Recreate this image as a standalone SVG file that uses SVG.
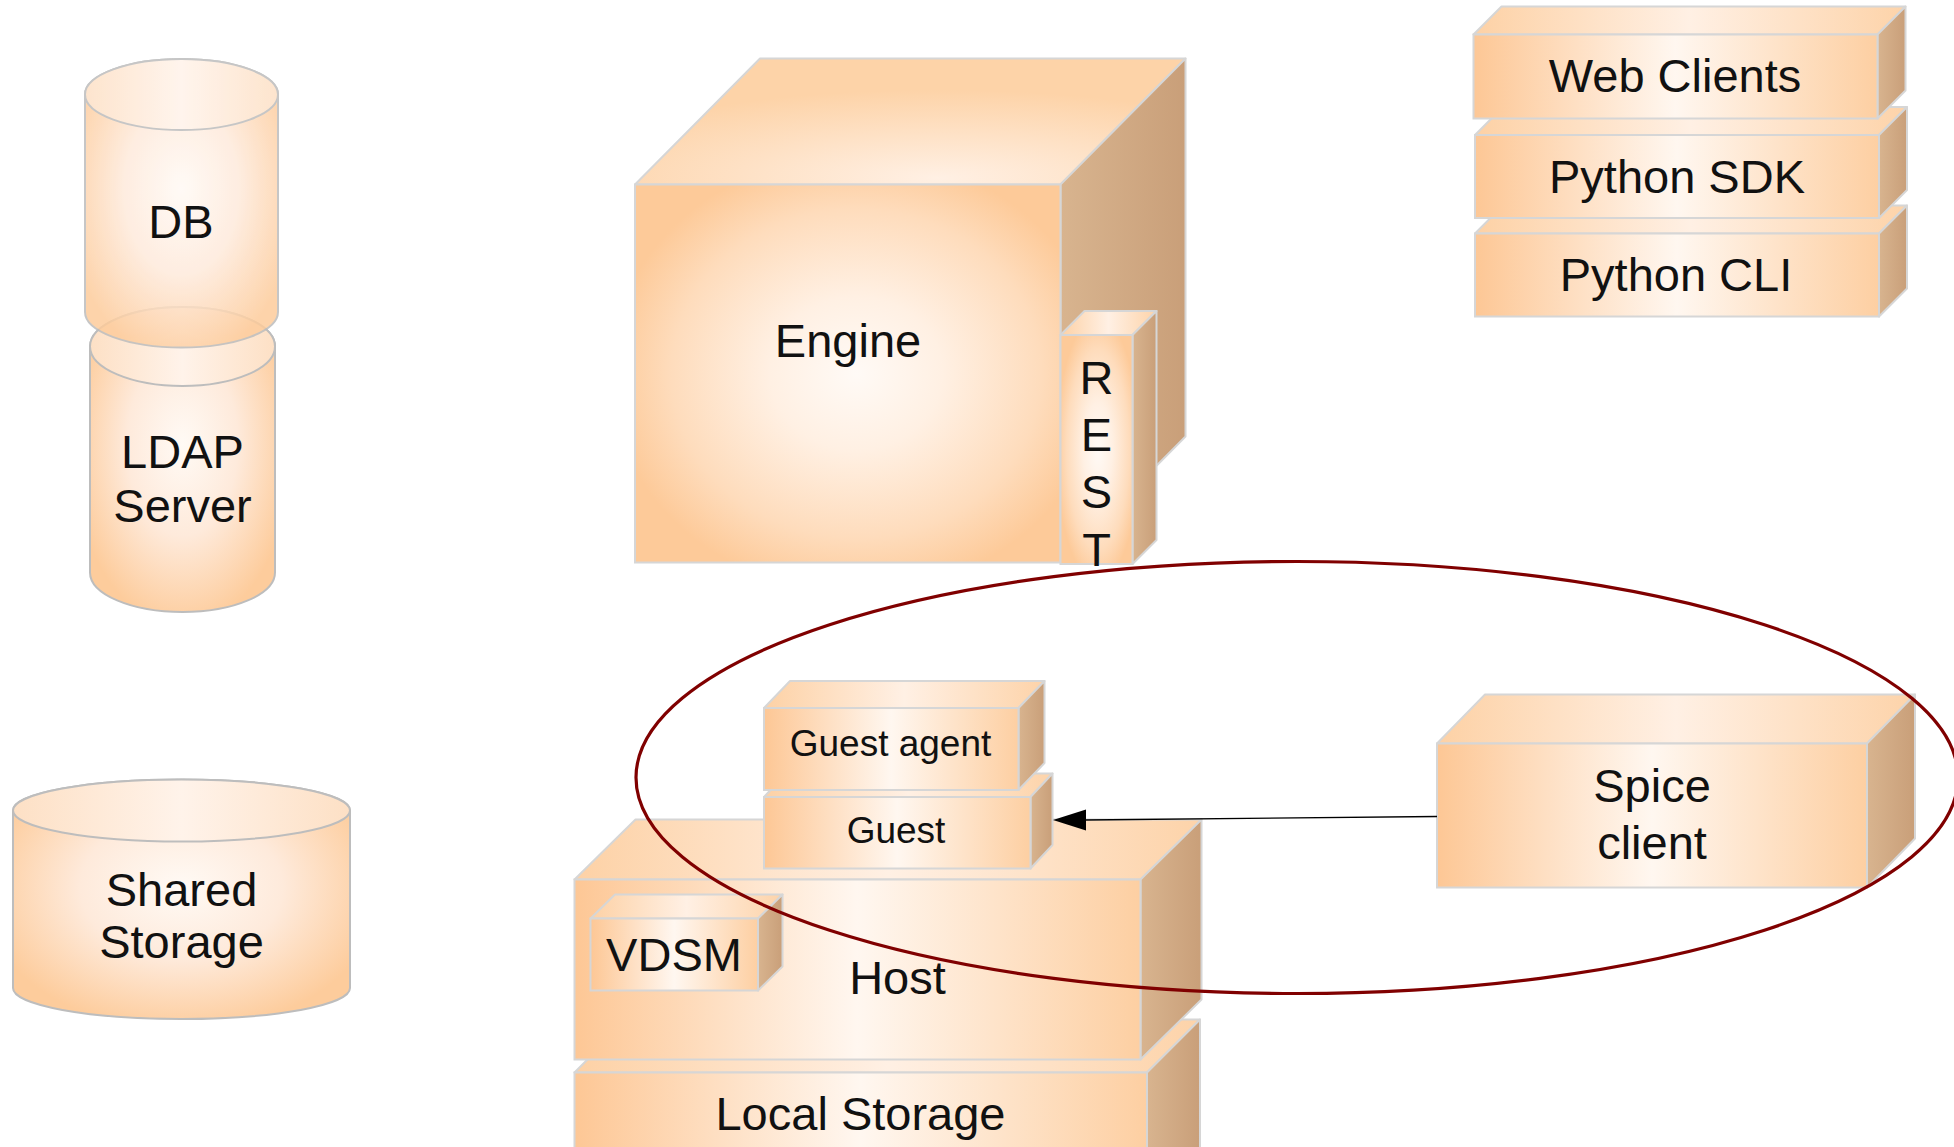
<svg xmlns="http://www.w3.org/2000/svg" width="1954" height="1147" viewBox="0 0 1954 1147">
<defs>
<radialGradient id="gSq" cx="0.52" cy="0.5" r="0.58">
<stop offset="0" stop-color="#fffaf6"/><stop offset="0.35" stop-color="#fff0e3"/><stop offset="0.75" stop-color="#fedcbc"/><stop offset="1" stop-color="#fdca99"/>
</radialGradient>
<linearGradient id="gH" x1="0" y1="0" x2="1" y2="0">
<stop offset="0" stop-color="#fdc795"/><stop offset="0.5" stop-color="#fff7f0"/><stop offset="1" stop-color="#fdcfa2"/>
</linearGradient>
<linearGradient id="gTop" x1="0" y1="0" x2="1" y2="0">
<stop offset="0" stop-color="#fdd1a5"/><stop offset="0.5" stop-color="#fff0e4"/><stop offset="1" stop-color="#fdd3a9"/>
</linearGradient>
<radialGradient id="gTopE" cx="0.55" cy="0.95" r="0.7">
<stop offset="0" stop-color="#fff0e4"/><stop offset="1" stop-color="#fdd3a8"/>
</radialGradient>
<linearGradient id="gSide" x1="0" y1="0" x2="1" y2="0">
<stop offset="0" stop-color="#d8b48f"/><stop offset="1" stop-color="#c99f79"/>
</linearGradient>
<radialGradient id="gCyl" cx="0.5" cy="0.45" r="0.6">
<stop offset="0" stop-color="#fffaf5"/><stop offset="0.5" stop-color="#feeadb"/><stop offset="1" stop-color="#fdcc9c"/>
</radialGradient>
<linearGradient id="gCylTop" x1="0" y1="0" x2="1" y2="0">
<stop offset="0" stop-color="#fde0c5"/><stop offset="0.5" stop-color="#fff3ea"/><stop offset="1" stop-color="#fde0c5"/>
</linearGradient>
</defs>
<style>
.f{fill:url(#gH);stroke:#d6d6d6;stroke-width:2}
.sq{fill:url(#gSq);stroke:#d6d6d6;stroke-width:2}
.t{fill:url(#gTop);stroke:#d6d6d6;stroke-width:2;stroke-linejoin:round}
.te{fill:url(#gTopE);stroke:#d6d6d6;stroke-width:2;stroke-linejoin:round}
.s{fill:url(#gSide);stroke:#d6d6d6;stroke-width:2;stroke-linejoin:round}
.cb{fill:url(#gCyl);stroke:#bdbdbd;stroke-width:2}
.ct{fill:url(#gCylTop);stroke:#bdbdbd;stroke-width:2}
text{font-family:"Liberation Sans",Arial,sans-serif;font-size:47px;fill:#111;text-anchor:middle}
.sm{font-size:37px}
</style>
<rect width="1954" height="1147" fill="#ffffff"/>

<g id="ldap">
<path class="cb" d="M90,346.5 L90,572.5 A92.5,39.5 0 0 0 275,572.5 L275,346.5 A92.5,39.5 0 0 0 90,346.5 Z"/>
<ellipse class="ct" cx="182.5" cy="346.5" rx="92.5" ry="39.5"/>
<text x="182.5" y="468">LDAP</text>
<text x="182.5" y="522">Server</text>
</g>
<g id="db" opacity="0.85">
<path class="cb" d="M85,94.5 L85,312 A96.5,35.5 0 0 0 278,312 L278,94.5 A96.5,35.5 0 0 0 85,94.5 Z"/>
<ellipse class="ct" cx="181.5" cy="94.5" rx="96.5" ry="35.5"/>
</g>
<g id="db-label"><text x="181" y="238">DB</text></g>
<g id="shared-storage">
<path class="cb" d="M13,810.5 L13,988 A168.5,31 0 0 0 350,988 L350,810.5 A168.5,31 0 0 0 13,810.5 Z"/>
<ellipse class="ct" cx="181.5" cy="810.5" rx="168.5" ry="31"/>
<text x="181.5" y="906">Shared</text>
<text x="181.5" y="958">Storage</text>
</g>

<g id="engine">
<polygon class="te" points="635,184.5 760,58.5 1185.5,58.5 1060.5,184.5"/>
<polygon class="s" points="1060.5,184.5 1185.5,58.5 1185.5,436.5 1060.5,562.5"/>
<rect class="sq" x="635" y="184.5" width="425.5" height="378"/>
<text x="848" y="357">Engine</text>
</g>
<g id="rest">
<polygon class="t" points="1060.5,335 1084.5,311 1156.5,311 1132.5,335"/>
<polygon class="s" points="1132.5,335 1156.5,311 1156.5,540 1132.5,564"/>
<rect class="sq" x="1060.5" y="335" width="72" height="229"/>
<text x="1096.5" y="394">R</text>
<text x="1096.5" y="451">E</text>
<text x="1096.5" y="508">S</text>
<text x="1096.5" y="566">T</text>
</g>

<g id="python-cli">
<polygon class="t" points="1475,233.5 1503,205.5 1907,205.5 1879,233.5"/>
<polygon class="s" points="1879,233.5 1907,205.5 1907,288.5 1879,316.5"/>
<rect class="f" x="1475" y="233.5" width="404" height="83"/>
<text x="1676" y="291">Python CLI</text>
</g>
<g id="python-sdk">
<polygon class="t" points="1475,135 1503,107 1907,107 1879,135"/>
<polygon class="s" points="1879,135 1907,107 1907,190 1879,218"/>
<rect class="f" x="1475" y="135" width="404" height="83"/>
<text x="1677" y="193">Python SDK</text>
</g>
<g id="web-clients">
<polygon class="t" points="1473.5,34.5 1501.5,6.5 1905.5,6.5 1877.5,34.5"/>
<polygon class="s" points="1877.5,34.5 1905.5,6.5 1905.5,90.5 1877.5,118.5"/>
<rect class="f" x="1473.5" y="34.5" width="404" height="84"/>
<text x="1675" y="92">Web Clients</text>
</g>

<g id="local-storage">
<polygon class="t" points="574.5,1072.5 627.5,1019.5 1200,1019.5 1147,1072.5"/>
<polygon class="s" points="1147,1072.5 1200,1019.5 1200,1160 1147,1180"/>
<rect class="f" x="574.5" y="1072.5" width="572.5" height="100"/>
<text x="860.5" y="1130">Local Storage</text>
</g>
<g id="host">
<polygon class="t" points="574.5,879.5 635.5,819.5 1201.5,819.5 1140.5,879.5"/>
<polygon class="s" points="1140.5,879.5 1201.5,819.5 1201.5,999.5 1140.5,1059.5"/>
<rect class="f" x="574.5" y="879.5" width="566" height="180"/>
<text x="897.5" y="994">Host</text>
</g>
<g id="vdsm">
<polygon class="t" points="590.5,918.5 615,894.5 782.5,894.5 758,918.5"/>
<polygon class="s" points="758,918.5 782.5,894.5 782.5,966.5 758,990.5"/>
<rect class="f" x="590.5" y="918.5" width="167.5" height="72"/>
<text x="674" y="971">VDSM</text>
</g>
<g id="guest">
<polygon class="t" points="764,797 786,773.5 1052.5,773.5 1030.5,797"/>
<polygon class="s" points="1030.5,797 1052.5,773.5 1052.5,845 1030.5,868.5"/>
<rect class="f" x="764" y="797" width="266.5" height="71.5"/>
<text class="sm" x="896" y="843">Guest</text>
</g>
<g id="guest-agent">
<polygon class="t" points="764,708 790,681 1044.5,681 1018.5,708"/>
<polygon class="s" points="1018.5,708 1044.5,681 1044.5,763 1018.5,790"/>
<rect class="f" x="764" y="708" width="254.5" height="82"/>
<text class="sm" x="890.5" y="756">Guest agent</text>
</g>
<g id="spice-client">
<polygon class="t" points="1437,743.5 1485,694.5 1915,694.5 1867,743.5"/>
<polygon class="s" points="1867,743.5 1915,694.5 1915,838.5 1867,887.5"/>
<rect class="f" x="1437" y="743.5" width="430" height="144"/>
<text x="1652" y="802">Spice</text>
<text x="1652" y="859">client</text>
</g>

<g id="connectors">
<line x1="1437" y1="816.5" x2="1084" y2="820" stroke="#000" stroke-width="1.4"/>
<polygon points="1053,820 1086,809.5 1086,830.5" fill="#000"/>
</g>
<g id="highlight">
<ellipse cx="1297" cy="777.5" rx="661" ry="216" fill="none" stroke="#800000" stroke-width="3.2"/>
</g>
</svg>
